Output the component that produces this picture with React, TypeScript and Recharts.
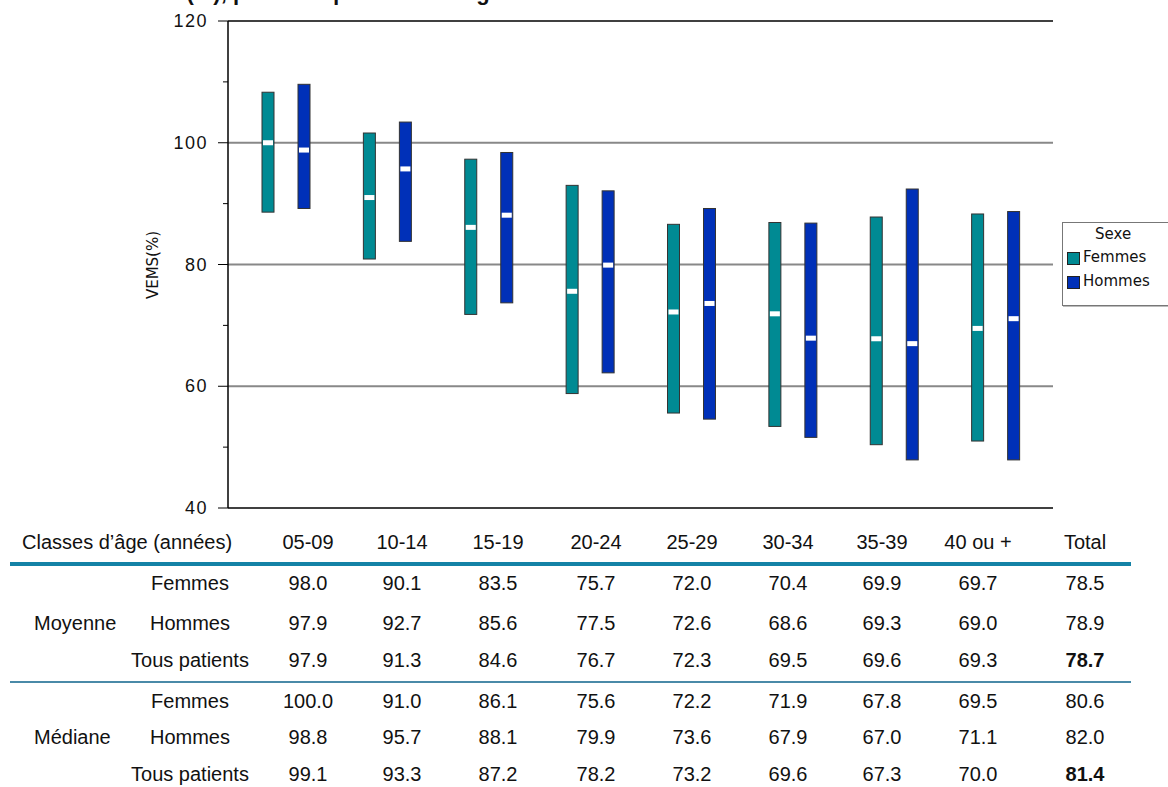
import React from "react";
import {
  ComposedChart,
  Bar,
  XAxis,
  YAxis,
  CartesianGrid,
  ReferenceLine,
} from "recharts";

const TEAL = "#008a93";
const BLUE = "#0030b8";
const RULE = "#1482a6";

const groups = ["05-09", "10-14", "15-19", "20-24", "25-29", "30-34", "35-39", "40 ou +"];
// ranges (low, high) and the white median marks
const femmesLow = [88.6, 80.9, 71.8, 58.8, 55.6, 53.4, 50.4, 51.0];
const femmesHigh = [108.3, 101.6, 97.3, 93.0, 86.6, 86.9, 87.8, 88.3];
const femmesMed = [100.0, 91.0, 86.1, 75.6, 72.2, 71.9, 67.8, 69.5];
const hommesLow = [89.2, 83.8, 73.7, 62.2, 54.6, 51.6, 47.9, 47.9];
const hommesHigh = [109.6, 103.4, 98.4, 92.1, 89.2, 86.8, 92.4, 88.7];
const hommesMed = [98.8, 95.7, 88.1, 79.9, 73.6, 67.9, 67.0, 71.1];

const yTicks = [40, 50, 60, 70, 80, 90, 100, 110, 120];
const gridValues = [60, 80, 100];

// table
const tableCols = [...groups, "Total"];
const moyRows = [
  { sub: "Femmes", vals: ["98.0", "90.1", "83.5", "75.7", "72.0", "70.4", "69.9", "69.7", "78.5"] },
  { sub: "Hommes", vals: ["97.9", "92.7", "85.6", "77.5", "72.6", "68.6", "69.3", "69.0", "78.9"] },
  { sub: "Tous patients", vals: ["97.9", "91.3", "84.6", "76.7", "72.3", "69.5", "69.6", "69.3", "78.7"] },
];
const medRows = [
  { sub: "Femmes", vals: ["100.0", "91.0", "86.1", "75.6", "72.2", "71.9", "67.8", "69.5", "80.6"] },
  { sub: "Hommes", vals: ["98.8", "95.7", "88.1", "79.9", "73.6", "67.9", "67.0", "71.1", "82.0"] },
  { sub: "Tous patients", vals: ["99.1", "93.3", "87.2", "78.2", "73.2", "69.6", "67.3", "70.0", "81.4"] },
];

const data = groups.map((g, i) => ({
  g,
  f: [femmesLow[i], femmesHigh[i]],
  h: [hommesLow[i], hommesHigh[i]],
  fMed: femmesMed[i],
  hMed: hommesMed[i],
}));

function rangeShape(fill: string, medKey: "fMed" | "hMed", lowKey: "f" | "h") {
  return (props: any) => {
    const { x, y, width, height, payload } = props;
    const [lo, hi] = payload[lowKey];
    const my = y + (height * (hi - payload[medKey])) / (hi - lo);
    return (
      <g>
        <rect x={x} y={y} width={width} height={height} fill={fill} stroke="#333" strokeWidth={1} />
        <rect x={x + 1} y={my - 2.5} width={width - 2} height={5} fill="#fff" />
      </g>
    );
  };
}

function YTick(props: any) {
  const { x, y, payload } = props;
  const major = payload.value % 20 === 0;
  return (
    <g>
      <line x1={x - (major ? 10 : 5)} x2={x} y1={y} y2={y} stroke="#000" />
      {major && (
        <text x={x - 20} y={y + 6} textAnchor="end" fontSize={18} letterSpacing={1.5} fill="#111">
          {payload.value}
        </text>
      )}
    </g>
  );
}

const colX = [308, 402, 498, 596, 692, 788, 882, 978, 1085];
const font = "'Liberation Sans', Arial, sans-serif";
const cell = { position: "absolute" as const, fontSize: 20, lineHeight: "20px", whiteSpace: "nowrap" as const };

function Row({ y, left, sub, vals, boldLast }: any) {
  return (
    <>
      {left && <div style={{ ...cell, left: 34, top: y }}>{left}</div>}
      <div style={{ ...cell, left: 110, width: 160, top: y, textAlign: "center" }}>{sub}</div>
      {vals.map((v: string, i: number) => (
        <div
          key={i}
          style={{
            ...cell,
            left: colX[i] - 40,
            width: 80,
            top: y,
            textAlign: "center",
            fontWeight: boldLast && i === vals.length - 1 ? "bold" : "normal",
          }}
        >
          {v}
        </div>
      ))}
    </>
  );
}

export default function App() {
  return (
    <div style={{ position: "absolute", left: 0, top: 0, width: 1168, height: 787, background: "#fff", overflow: "hidden", fontFamily: font, color: "#111" }}>
      <div style={{ position: "absolute", left: 118, top: -20, fontSize: 22, fontWeight: "bold", whiteSpace: "nowrap" }}>
        VEMS (%), pour chaque classe d’âge et selon le sexe
      </div>
      <div
        style={{ position: "absolute", left: 108, top: 256, fontSize: 15, transform: "rotate(-90deg)", width: 90, textAlign: "center", fontFamily: "'DejaVu Sans', sans-serif" }}
      >
        VEMS(%)
      </div>
      <div style={{ position: "absolute", left: 0, top: 0 }}>
        <ComposedChart
          width={1168}
          height={520}
          data={data}
          margin={{ top: 21, right: 115, bottom: 12, left: 168 }}
          barSize={12}
          barGap={24}
        >
          <CartesianGrid horizontal vertical={false} horizontalValues={gridValues} stroke="#888" strokeWidth={2} />
          <XAxis dataKey="g" hide padding={{ left: 7, right: 7 }} />
          <YAxis
            domain={[40, 120]}
            ticks={yTicks}
            width={60}
            tickSize={0}
            tickMargin={0}
            tick={<YTick />}
            tickLine={false}
            axisLine={{ stroke: "#000", strokeWidth: 1.5 }}
            interval={0}
          />
          <YAxis yAxisId="r" orientation="right" width={0} domain={[40, 120]} tick={false} axisLine={{ stroke: "#000", strokeWidth: 1.5 }} />
          <ReferenceLine y={120} stroke="#000" strokeWidth={1.5} />
          <ReferenceLine y={40} stroke="#000" strokeWidth={1.5} />
          <Bar dataKey="f" isAnimationActive={false} shape={rangeShape(TEAL, "fMed", "f")} />
          <Bar dataKey="h" isAnimationActive={false} shape={rangeShape(BLUE, "hMed", "h")} />
        </ComposedChart>
      </div>

      <div style={{ position: "absolute", left: 1062, top: 222, width: 120, height: 82, border: "1px solid #777", boxShadow: "1px 1px 0 #bbb", fontFamily: "'DejaVu Sans', sans-serif", fontSize: 15 }}>
        <div style={{ position: "absolute", left: 32, top: 2 }}>Sexe</div>
        <div style={{ position: "absolute", left: 4, top: 29, width: 11, height: 11, background: TEAL, border: "1px solid #222" }} />
        <div style={{ position: "absolute", left: 20, top: 25 }}>Femmes</div>
        <div style={{ position: "absolute", left: 4, top: 53, width: 11, height: 11, background: BLUE, border: "1px solid #222" }} />
        <div style={{ position: "absolute", left: 20, top: 49 }}>Hommes</div>
      </div>

      <div style={{ ...cell, left: 22, top: 532 }}>Classes d’âge (années)</div>
      {tableCols.map((c, i) => (
        <div key={c} style={{ ...cell, left: colX[i] - 40, width: 80, top: 532, textAlign: "center" }}>
          {c}
        </div>
      ))}
      <div style={{ position: "absolute", left: 10, top: 562, width: 1121, height: 4, background: RULE }} />
      <Row y={573} sub={moyRows[0].sub} vals={moyRows[0].vals} />
      <Row y={613} left="Moyenne" sub={moyRows[1].sub} vals={moyRows[1].vals} />
      <Row y={650} sub={moyRows[2].sub} vals={moyRows[2].vals} boldLast />
      <div style={{ position: "absolute", left: 10, top: 681, width: 1121, height: 2, background: "#4a8aa8" }} />
      <Row y={691} sub={medRows[0].sub} vals={medRows[0].vals} />
      <Row y={727} left="Médiane" sub={medRows[1].sub} vals={medRows[1].vals} />
      <Row y={764} sub={medRows[2].sub} vals={medRows[2].vals} boldLast />
    </div>
  );
}
